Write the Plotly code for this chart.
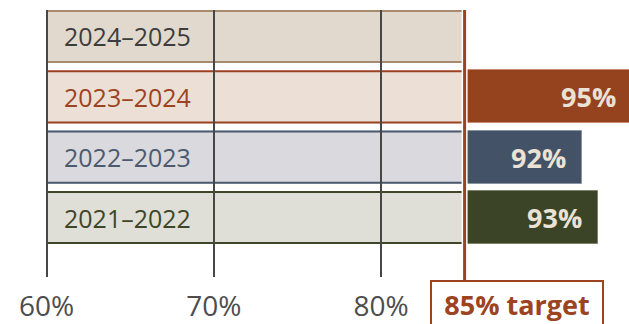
import plotly.graph_objects as go

# ---- data ----
periods = ["2021–2022", "2022–2023", "2023–2024", "2024–2025"]
rates = [93, 92, 95, None]
target = 85
target_label = "85% target"
axis_start = 60
tick_values = [60, 70, 80]
tick_labels = ["60%", "70%", "80%"]

# ---- styles ----
FONT = "Open Sans"
fills = ["#dfdfd8", "#d9d9de", "#ecdfd6", "#e1d9ce"]
borders = ["#3e4628", "#4b5a6e", "#9c4322", "#a58a70"]
text_colors = ["#3e4628", "#4b5a6e", "#9c4322", "#3d3d3d"]
bar_colors = ["#3b4426", "#435266", "#95421f", "#888888"]
bar_edge = ["#7d826c", "#8a94a3", "#c7886d", "#bbbbbb"]
RUST = "#9c4322"
GRID = "#474747"
LABEL_ON_BAR = "#ebe2d6"
ROW_H = 0.88
X_RANGE = [59.611, 94.83]

ypos = list(range(len(periods)))

fig = go.Figure()

# value bars starting at the target
bx, by, bb, bc, bl = [], [], [], [], []
for i, v in enumerate(rates):
    if v is None:
        continue
    bx.append(v - target)
    by.append(ypos[i])
    bb.append(target)
    bc.append(bar_colors[i])
    bl.append(bar_edge[i])
fig.add_trace(go.Bar(
    x=bx, y=by, base=bb, orientation="h", width=ROW_H,
    marker=dict(color=bc, line=dict(color=bl, width=1)),
    hoverinfo="skip", showlegend=False,
))


def to_paper(v):
    return (v - X_RANGE[0]) / (X_RANGE[1] - X_RANGE[0])


shapes = []
annotations = []
for i, p in enumerate(periods):
    y0 = ypos[i] - ROW_H / 2
    y1 = ypos[i] + ROW_H / 2
    shapes.append(dict(type="rect", xref="x", yref="y", x0=axis_start, x1=target,
                       y0=y0, y1=y1, fillcolor=fills[i], line=dict(width=0), layer="below"))
    for yy in (y0 + 0.016, y1 - 0.016):
        shapes.append(dict(type="line", xref="x", yref="y", x0=axis_start, x1=target,
                           y0=yy, y1=yy, line=dict(color=borders[i], width=2), layer="below"))
    annotations.append(dict(x=axis_start, y=ypos[i], xref="x", yref="y", text=p,
                            showarrow=False, xanchor="left", xshift=15,
                            font=dict(family=FONT, size=25, color=text_colors[i])))
    if rates[i] is not None:
        annotations.append(dict(x=to_paper(rates[i]), y=ypos[i], xref="paper", yref="y",
                                text=f"{rates[i]}%", showarrow=False, xanchor="right",
                                xshift=-14,
                                font=dict(family=FONT, size=27, color=LABEL_ON_BAR, weight="bold")))

# target line with white gap
shapes.append(dict(type="line", xref="x", yref="paper", x0=target, x1=target,
                   y0=-0.012, y1=1, line=dict(color="white", width=6), layer="above"))
shapes.append(dict(type="line", xref="x", yref="paper", x0=target, x1=target,
                   y0=-0.012, y1=1, line=dict(color=RUST, width=3), layer="above"))

annotations.append(dict(x=target, y=0, xref="x", yref="paper", text=f"<b>{target_label}</b>",
                        showarrow=False, xanchor="left", yanchor="top", xshift=-35, yshift=-3,
                        width=170, height=44, borderpad=0, borderwidth=2, bordercolor=RUST,
                        bgcolor="white", align="center", valign="middle",
                        font=dict(family=FONT, size=27, color=RUST)))

fig.update_layout(
    width=629, height=324,
    margin=dict(l=40, r=0, t=10, b=47),
    paper_bgcolor="white", plot_bgcolor="white",
    shapes=shapes, annotations=annotations,
    showlegend=False, bargap=0,
    xaxis=dict(range=X_RANGE, tickvals=tick_values, ticktext=tick_labels,
               showgrid=True, gridcolor=GRID, gridwidth=2, zeroline=False, showline=False,
               ticks="", ticklabelstandoff=10,
               tickfont=dict(family=FONT, size=28, color="#4d4d4d"), fixedrange=True),
    yaxis=dict(range=[-0.986, 3.439], showgrid=False, zeroline=False, showline=False,
               showticklabels=False, fixedrange=True),
)

fig.write_html("out.html")
